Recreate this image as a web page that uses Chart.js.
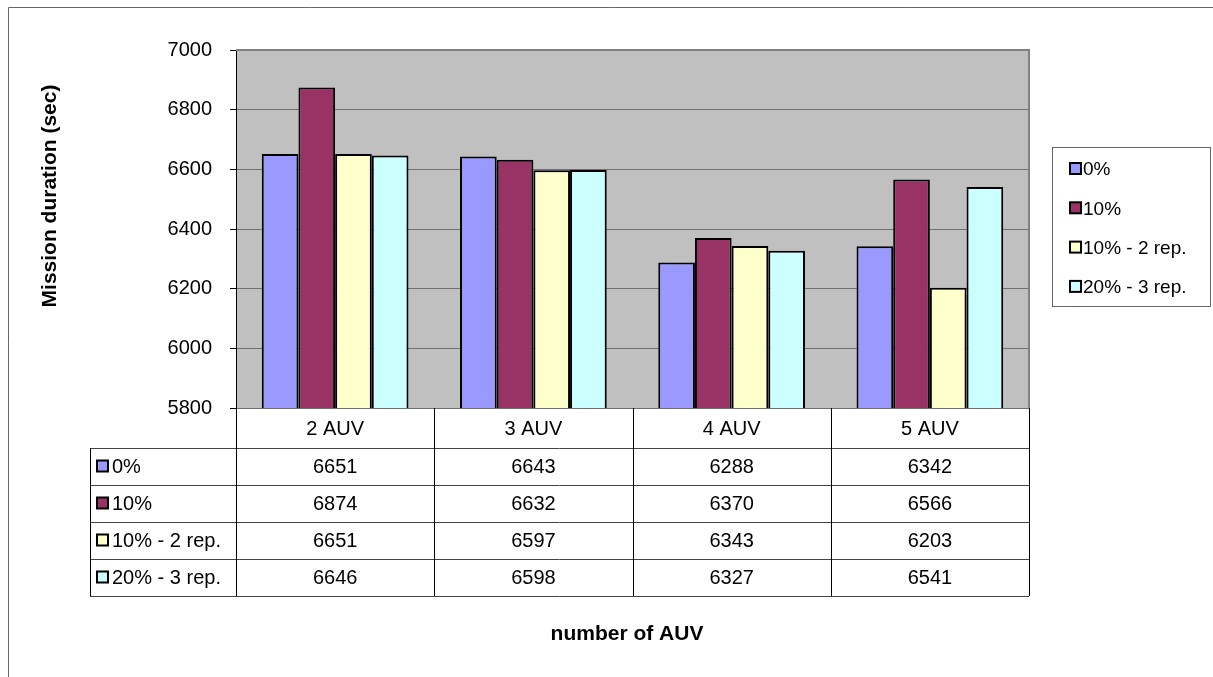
<!DOCTYPE html>
<html>
<head>
<title>Mission duration</title>
<style>
body{margin:0;background:#fff;}
canvas{display:block;}
</style>
</head>
<body>
<script src=https://cdn.jsdelivr.net/npm/chart.js@4/dist/chart.umd.min.js></script>
<canvas id="myChart" width="1213" height="677"></canvas>

<script>
// data
var categories = ['2 AUV', '3 AUV', '4 AUV', '5 AUV'];
var seriesNames = ['0%', '10%', '10% - 2 rep.', '20% - 3 rep.'];
var seriesColors = ['#9999FF', '#993366', '#FFFFCC', '#CCFFFF'];
var loss0 = [6651, 6643, 6288, 6342];
var loss10 = [6874, 6632, 6370, 6566];
var loss10rep2 = [6651, 6597, 6343, 6203];
var loss20rep3 = [6646, 6598, 6327, 6541];
var yMin = 5800, yMax = 7000, yStep = 200;
var yTitle = 'Mission duration (sec)';
var xTitle = 'number of AUV';

var seriesValues = [loss0, loss10, loss10rep2, loss20rep3];
var FONT = "'Liberation Sans', Arial, sans-serif";

// grey plot background, table under the axis, legend box and titles
var excelLook = {
	id: 'excelLook',
	beforeDraw: function(chart)
	{
		var a = chart.chartArea, c = chart.ctx;
		c.save();
		c.fillStyle = '#C0C0C0';
		c.fillRect(a.left, a.top, a.right - a.left, a.bottom - a.top);
		// outer chart frame
		c.strokeStyle = '#666';
		c.lineWidth = 1;
		c.beginPath();
		c.moveTo(8.5, 677); c.lineTo(8.5, 7.5); c.lineTo(1213, 7.5);
		c.stroke();
		c.restore();
	},
	afterDraw: function(chart)
	{
		var a = chart.chartArea, c = chart.ctx, x = chart.scales.x;
		var n = categories.length, colW = (a.right - a.left) / n;
		var tableLeft = 90, headBottom = a.bottom + 40, rowH = 37;
		var tableBottom = headBottom + rowH * seriesNames.length;
		c.save();
		// plot border top/right
		c.strokeStyle = '#808080';
		c.lineWidth = 2;
		c.beginPath();
		c.moveTo(a.left, a.top); c.lineTo(a.right, a.top); c.lineTo(a.right, a.bottom);
		c.stroke();
		// horizontal table lines
		c.lineWidth = 1;
		c.strokeStyle = '#444';
		c.beginPath();
		for (var r = 0; r <= seriesNames.length; r++)
		{
			var yy = Math.round(headBottom + r * rowH) + 0.5;
			c.moveTo(tableLeft, yy); c.lineTo(a.right, yy);
		}
		c.stroke();
		// vertical table lines
		c.strokeStyle = '#000';
		c.beginPath();
		c.moveTo(tableLeft + 0.5, headBottom); c.lineTo(tableLeft + 0.5, tableBottom);
		for (var i = 0; i <= n; i++)
		{
			var xx = Math.round(a.left + i * colW) + 0.5;
			c.moveTo(xx, a.bottom); c.lineTo(xx, tableBottom);
		}
		c.stroke();
		// table texts
		c.fillStyle = '#000';
		c.font = '20px ' + FONT;
		c.textAlign = 'center';
		c.textBaseline = 'middle';
		for (var i = 0; i < n; i++)
		{
			var cx = x.getPixelForValue(i);
			c.fillText(categories[i], cx, a.bottom + 21);
			for (var s = 0; s < seriesNames.length; s++)
				c.fillText(String(seriesValues[s][i]), cx, headBottom + s * rowH + rowH / 2 + 1);
		}
		c.textAlign = 'left';
		for (var s = 0; s < seriesNames.length; s++)
		{
			var my = headBottom + s * rowH + rowH / 2;
			drawKey(c, 97, my - 6, seriesColors[s]);
			c.fillStyle = '#000';
			c.fillText(seriesNames[s], 112, my + 1);
		}
		// legend box
		c.strokeStyle = '#666';
		c.strokeRect(1052.5, 147.5, 158, 159);
		c.font = '19px ' + FONT;
		for (var s = 0; s < seriesNames.length; s++)
		{
			var ly = 169 + s * 39.3;
			drawKey(c, 1070, ly - 6, seriesColors[s]);
			c.fillStyle = '#000';
			c.fillText(seriesNames[s], 1083, ly + 1);
		}
		// axis titles
		c.font = 'bold 21px ' + FONT;
		c.textAlign = 'center';
		c.fillText(xTitle, 627, 634);
		c.translate(50, 196);
		c.rotate(-Math.PI / 2);
		c.fillText(yTitle, 0, 0);
		c.restore();
	}
};

function drawKey(c, x0, y0, col)
{
	c.fillStyle = col;
	c.fillRect(x0, y0, 11, 11);
	c.strokeStyle = '#000';
	c.lineWidth = 2;
	c.strokeRect(x0, y0, 11, 11);
	c.lineWidth = 1;
}

var datasets = [];
for (var s = 0; s < seriesNames.length; s++)
{
	datasets.push({
		label: seriesNames[s],
		data: seriesValues[s],
		backgroundColor: seriesColors[s],
		borderColor: '#000',
		borderWidth: 2,
		borderSkipped: false,
		categoryPercentage: 0.74,
		barPercentage: 1
	});
}

Chart.defaults.font.family = FONT;
var myChart = new Chart(document.getElementById('myChart'),
{
	type: 'bar',
	data: {labels: categories, datasets: datasets},
	plugins: [excelLook],
	options:
	{
		responsive: false,
		animation: false,
		layout: {padding: {top: 50, right: 184, bottom: 269, left: 0}},
		plugins: {legend: {display: false}, tooltip: {enabled: false}},
		scales:
		{
			x: {display: false},
			y:
			{
				min: yMin, max: yMax,
				afterFit: function(scale) { scale.width = 236; },
				ticks: {stepSize: yStep, color: '#000', font: {size: 20}, padding: 18,
					callback: function(v) { return String(v); }},
				grid: {color: '#707070', tickColor: '#000', tickLength: 6},
				border: {color: '#000', width: 1}
			}
		}
	}
});
</script>
</body>
</html>
